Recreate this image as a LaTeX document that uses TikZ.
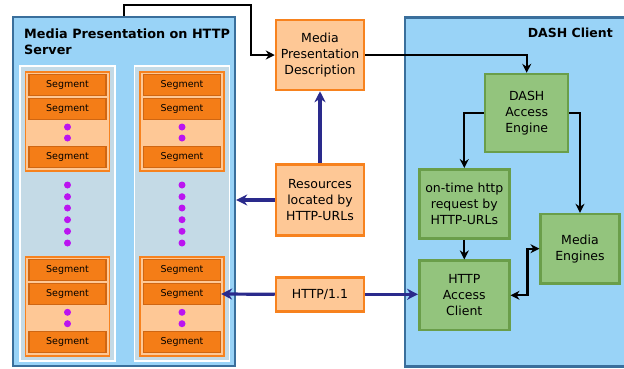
\documentclass[tikz,border=0pt]{standalone}
\usepackage{fontspec}
\setmainfont{DejaVu Sans}
\usetikzlibrary{arrows.meta}
\definecolor{srvblue}{HTML}{99D3F7}
\definecolor{boxedge}{HTML}{3A6F9C}
\definecolor{colgray}{HTML}{C4DAE6}
\definecolor{lightorange}{HTML}{FEC896}
\definecolor{orangeedge}{HTML}{F7821E}
\definecolor{segorange}{HTML}{F47D17}
\definecolor{segedge}{HTML}{CF6612}
\definecolor{dotpurple}{HTML}{BB14F0}
\definecolor{greenfill}{HTML}{93C47D}
\definecolor{greenedge}{HTML}{6A9E4A}
\definecolor{navyblue}{HTML}{2A2A8C}
\begin{document}
\begin{tikzpicture}[x=1pt,y=-1pt,
		area/.style={draw=boxedge,line width=2.4pt,fill=srvblue,inner sep=0pt},
		segcol/.style={draw=white,line width=1.5pt,fill=colgray,minimum width=95pt,minimum height=295pt,inner sep=0pt},
		seggroup/.style={draw=orangeedge,line width=1.5pt,fill=lightorange,minimum width=84pt,minimum height=99pt,inner sep=0pt},
		segment/.style={draw=segedge,line width=1.3pt,fill=segorange,minimum width=77pt,minimum height=21pt,inner sep=0pt,font=\fontsize{9.5}{11}\selectfont},
		segdot/.style={circle,fill=dotpurple,inner sep=0pt,minimum size=7pt},
		orangebox/.style={draw=orangeedge,line width=2.5pt,fill=lightorange,minimum width=88pt,align=center,inner sep=0pt,font=\fontsize{12.5}{16}\selectfont},
		greenbox/.style={draw=greenedge,line width=2.5pt,fill=greenfill,align=center,inner sep=0pt,font=\fontsize{12.5}{16}\selectfont},
		blk/.style={draw=black,line width=2.2pt,-{Stealth[length=9pt,width=9pt]}},
		navy/.style={draw=navyblue,line width=3.2pt,-{Stealth[length=11pt,width=11pt]}}
	]
	\useasboundingbox (0,0) rectangle (624,368);

	% server side
	\node[area,minimum width=222pt,minimum height=349pt] (srv) at (124,191.5) {};
	\node[anchor=north west,align=left,inner sep=0pt,font=\bfseries\fontsize{12.8}{15.5}\selectfont] (srvtitle) at (24,29) {Media Presentation on HTTP\\Server};
	\foreach \c/\x in {a/67.5,b/182} {
		\node[segcol] (col-\c) at (\x,213.5) {};
		\node[seggroup] (top-\c) at (\x,121.5) {};
		\node[seggroup] (bot-\c) at (\x,306.3) {};
		\foreach \i/\y in {1/85.2,2/108.8,3/157.2,4/270.3,5/294,6/342.2}
			\node[segment] (seg-\c-\i) at (\x,\y) {Segment};
		\foreach \y [count=\k] in {127,138,185,196.7,208,219.7,231.3,243,312.3,323.7}
			\node[segdot] (dot-\c-\k) at (\x,\y) {};
	}

	% client side
	\node[area,minimum width=230pt,minimum height=349pt] (cli) at (520,192) {};
	\node[anchor=base east,inner sep=0pt,font=\bfseries\fontsize{12.5}{15.5}\selectfont] (clititle) at (613,37) {DASH Client};
	\node[greenbox,minimum width=83pt,minimum height=77.7pt] (dae) at (526.7,112.9) {DASH\\Access\\Engine};
	\node[greenbox,minimum width=90pt,minimum height=69.4pt] (otr) at (464.3,204) {on-time http\\request by\\HTTP-URLs};
	\node[greenbox,minimum width=90pt,minimum height=69.3pt] (hac) at (464.3,295.3) {HTTP\\Access\\Client};
	\node[greenbox,minimum width=78.6pt,minimum height=69.3pt] (me) at (580,248.7) {Media\\Engines};

	% middle
	\node[orangebox,minimum height=70pt] (mpd) at (320,55) {Media\\Presentation\\Description};
	\node[orangebox,minimum height=70.6pt] (res) at (320,200) {Resources\\located by\\HTTP-URLs};
	\node[orangebox,minimum height=34pt] (http) at (320,294.3) {HTTP/1.1};

	% connectors
	\draw[blk] (srv.north) -- ++(0,-11) -| ([xshift=-24pt]mpd.west) -- (mpd.west);
	\draw[blk] (mpd.east) -| (dae.north);
	\draw[blk] (dae.west) -| (otr.north);
	\draw[blk] (dae.east) -| (me.north);
	\draw[blk] (otr.south) -- (hac.north);
	\draw[blk,{Stealth[length=9pt,width=9pt]}-{Stealth[length=9pt,width=9pt]}] (hac.east) -- ++(17,0) |- (me.west);
	\draw[navy] (res.north) -- (mpd.south);
	\draw[navy] (res.west) -- (res.west -| srv.east);
	\draw[navy] (http.west) -- (seg-b-5.east);
	\draw[navy] (http.east) -- (http.east -| hac.west);
\end{tikzpicture}
\end{document}
